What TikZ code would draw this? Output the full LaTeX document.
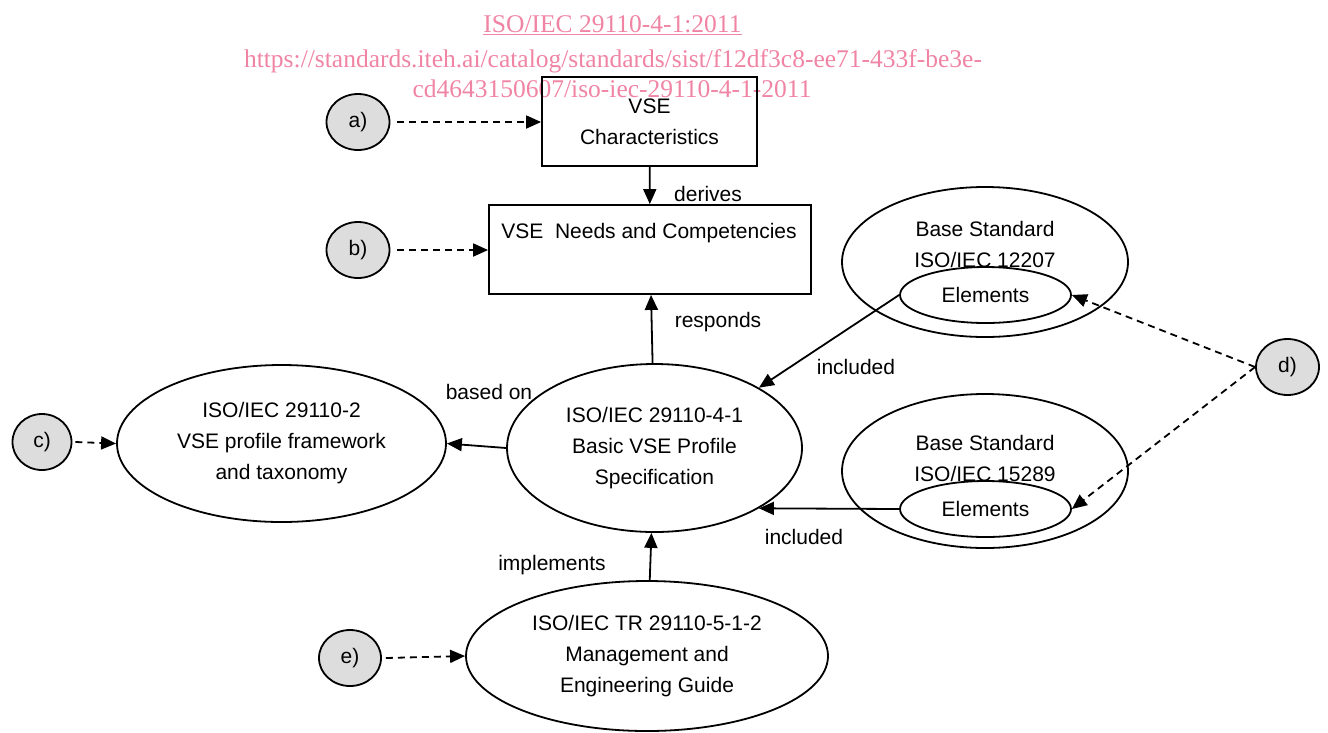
\documentclass[tikz,border=0pt]{standalone}
\usepackage{fontspec}
\setmainfont{Liberation Sans}
\newfontfamily\wmfont{Liberation Serif}
\usetikzlibrary{arrows.meta,shapes.geometric}
\definecolor{wmpink}{RGB}{240,132,164}
\definecolor{tagfill}{RGB}{221,221,221}
\tikzset{
  base/.style={font=\fontsize{21}{31}\selectfont},
  conn/.style={line width=1.8pt,-{Triangle[length=15pt,width=13pt]}},
  dconn/.style={conn,dash pattern=on 7pt off 5pt},
  boxnode/.style={draw,line width=1.8pt,inner sep=0pt},
  ell/.style={draw,ellipse,line width=1.8pt,inner sep=0pt,fill=white},
  tag/.style={draw,ellipse,line width=1.8pt,fill=tagfill,inner sep=0pt,minimum width=63pt,minimum height=56pt},
  lbl/.style={base,inner sep=0pt},
  wm/.style={font=\wmfont\fontsize{25.5}{30}\selectfont,text=wmpink,inner sep=0pt,anchor=base},
}
\begin{document}
\begin{tikzpicture}[x=1pt,y=-1pt,base]
\useasboundingbox (0,0) rectangle (1328,732);
% watermark
\node[wm] (wm1) at (612.5,32) {ISO/IEC 29110-4-1:2011};
\path (wm1.base west) ++(0,2.5) coordinate (u1) (wm1.base east) ++(0,2.5) coordinate (u2);
\draw[wmpink,line width=1pt] (u1) -- (u2);
\node[wm] (wm2) at (613,67) {https://standards.iteh.ai/catalog/standards/sist/f12df3c8-ee71-433f-be3e-};
\node[wm] (wm3) at (612,97) {cd4643150607/iso-iec-29110-4-1-2011};

% boxes
\node[boxnode,minimum width=215pt,minimum height=89pt,align=center] (char) at (649.5,121.5) {VSE\\Characteristics};
\node[boxnode,minimum width=322pt,minimum height=89pt] (needs) at (650,249.5) {};
\node[lbl] (needstxt) at (649,233) {VSE~~Needs and Competencies};

% ellipses
\node[ell,minimum width=295pt,minimum height=168pt,align=center] (cen) at (654.5,448) {ISO/IEC 29110-4-1\\Basic VSE Profile\\Specification};
\node[ell,minimum width=329pt,minimum height=157pt,align=center] (left) at (281.5,443.5) {ISO/IEC 29110-2\\VSE profile framework\\and taxonomy};
\node[ell,minimum width=362pt,minimum height=150pt,align=center] (eg) at (647,656) {ISO/IEC TR 29110-5-1-2\\Management and\\Engineering Guide};

\node[ell,minimum width=286pt,minimum height=150pt] (bs1) at (985,262) {};
\node[lbl,align=center] (bs1txt) at (985,244) {Base Standard\\ISO/IEC 12207};
\node[ell,minimum width=171pt,minimum height=56pt] (el1) at (985.5,295) {Elements};

\node[ell,minimum width=286pt,minimum height=154pt] (bs2) at (985,471) {};
\node[lbl,align=center] (bs2txt) at (985,458) {Base Standard\\ISO/IEC 15289};
\node[ell,minimum width=171pt,minimum height=56pt] (el2) at (985.5,509) {Elements};

% tags
\node[tag] (a) at (358,122) {a)};
\node[tag] (b) at (358,250) {b)};
\node[tag,minimum width=59pt] (c) at (42,442) {c)};
\node[tag,minimum width=62pt] (e) at (350,658) {e)};
\node[tag] (d) at (1287.5,367) {d)};

% connectors
\draw[conn] (char) -- (needs);
\draw[conn] (cen) -- (needs);
\draw[conn] (cen.west) -- (left.east);
\draw[conn] (eg) -- (cen);
\draw[conn] (el1.west) -- (cen.30);
\draw[conn] (el2.west) -- (cen.-30);

\path (a.east) ++(7,0) coordinate (as);
\draw[dconn] (as) -- (char.west |- a);
\path (b.east) ++(7,0) coordinate (bs);
\draw[dconn] (bs) -- (needs.west |- b);
\path (c.east) ++(3,0) coordinate (cs);
\draw[dconn] (cs) -- (left.west);
\path (e.east) ++(4,0) coordinate (es);
\draw[dconn] (es) -- (eg.west);
\draw[dconn] (d.west) -- (el1.east);
\draw[dconn] (d.west) -- (el2.east);

% labels
\node[lbl] (l1) at (708,194) {derives};
\node[lbl] (l2) at (718,322) {responds};
\node[lbl] (l3) at (489,392) {based on};
\node[lbl] (l4) at (552,565) {implements};
\node[lbl] (l5) at (856,367) {included};
\node[lbl] (l6) at (804,537) {included};
\end{tikzpicture}
\end{document}
